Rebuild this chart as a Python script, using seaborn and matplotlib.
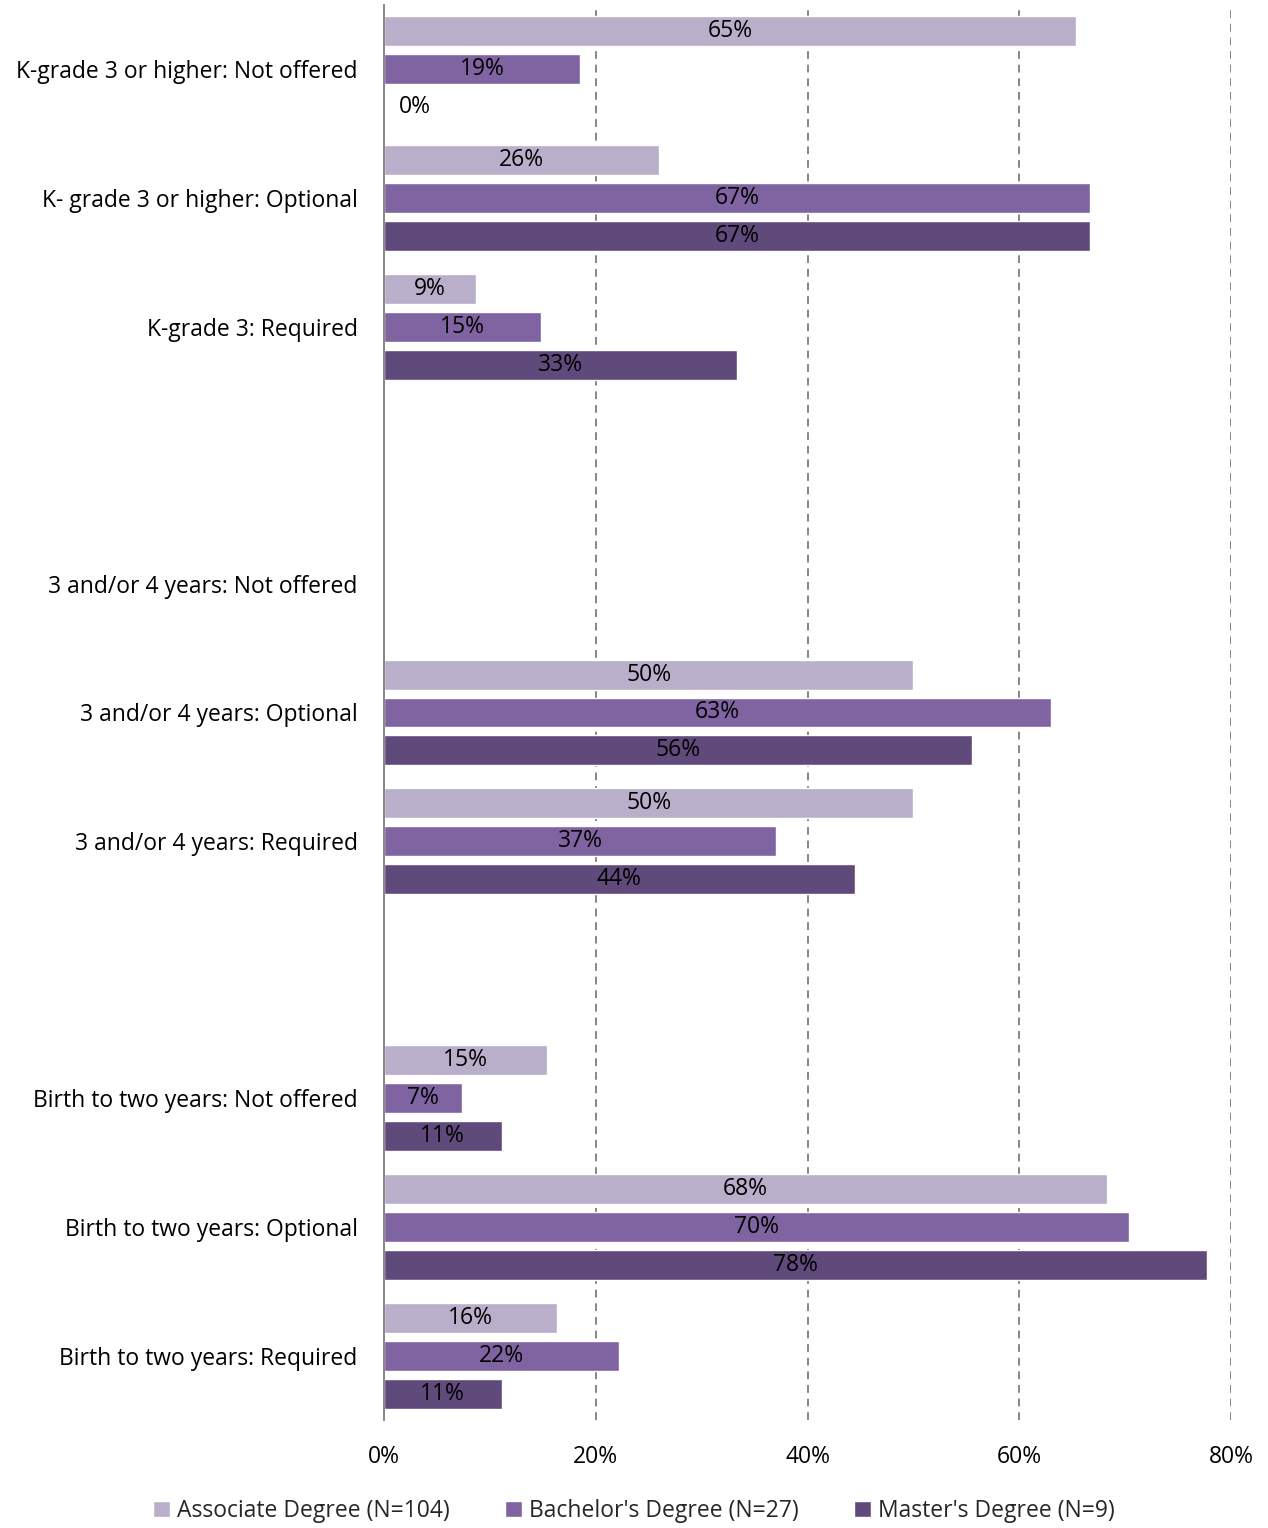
import matplotlib
matplotlib.use("Agg")
import matplotlib.pyplot as plt
import seaborn as sns
import pandas as pd

# Category slots, top to bottom (blank strings keep spacing between age bands)
categories = [
    "K-grade 3 or higher: Not offered",
    "K- grade 3 or higher: Optional",
    "K-grade 3: Required",
    "",
    "3 and/or 4 years: Not offered",
    "3 and/or 4 years: Optional",
    "3 and/or 4 years: Required",
    " ",
    "Birth to two years: Not offered",
    "Birth to two years: Optional",
    "Birth to two years: Required",
]

series_names = [
    "Associate Degree (N=104)",
    "Bachelor's Degree (N=27)",
    "Master's Degree (N=9)",
]

# Percent of programs; None = no bar for that slot
associate = [65.38, 25.96, 8.65, None, None, 50.0, 50.0, None, 15.38, 68.27, 16.35]
bachelor = [18.52, 66.67, 14.81, None, None, 62.96, 37.04, None, 7.41, 70.37, 22.22]
master = [0.0, 66.67, 33.33, None, None, 55.56, 44.44, None, 11.11, 77.78, 11.11]

x_ticks = [0, 20, 40, 60, 80]
colors = ["#B9AFCB", "#8064A2", "#604A7B"]

rows = []
for name, values in zip(series_names, [associate, bachelor, master]):
    for cat, v in zip(categories, values):
        if v is not None:
            rows.append({"category": cat, "degree": name, "pct": v})
df = pd.DataFrame(rows)

sns.set_theme(style="white")
plt.rcParams["font.family"] = ["Open Sans", "DejaVu Sans"]
FS = 16.5

fig = plt.figure(figsize=(12.68, 15.28), dpi=100)
ax = fig.add_axes([384 / 1268, 1 - 1420 / 1528, (1231 - 384) / 1268, (1420 - 5) / 1528])

sns.barplot(
    data=df, y="category", x="pct", hue="degree",
    order=categories, hue_order=series_names, palette=colors,
    orient="h", width=0.885, gap=0.21, errorbar=None, saturation=1,
    ax=ax,
)

ax.set_xlim(0, 80)
ax.set_ylim(10.5, -0.5)
ax.set_xticks(x_ticks)
ax.set_xticklabels([f"{t}%" for t in x_ticks], fontsize=FS, color="black")
ax.set_yticks(range(len(categories)))
ax.set_yticklabels(categories, fontsize=FS, color="black")
ax.tick_params(axis="x", length=0, pad=18)
ax.tick_params(axis="y", length=0, pad=19)
ax.set_xlabel("")
ax.set_ylabel("")

for gx in x_ticks[1:]:
    ax.axvline(gx, color="#868686", linestyle=(0, (4, 3)), linewidth=1.4, zorder=0)

for side in ["top", "right", "bottom"]:
    ax.spines[side].set_visible(False)
ax.spines["left"].set_color("#868686")
ax.spines["left"].set_linewidth(1.4)
ax.spines["left"].set_zorder(3)

# Value labels centred in each bar; zero-width bars get a label just right of the axis
for cont in ax.containers:
    vals = cont.datavalues
    labels = [f"{v:.0f}%" if v > 0 else "" for v in vals]
    ax.bar_label(cont, labels=labels, label_type="center", fontsize=FS, color="black")
    for patch, v in zip(cont.patches, vals):
        if v == 0:
            ax.annotate(f"{v:.0f}%", xy=(0, patch.get_y() + patch.get_height() / 2),
                        xytext=(11, 0), textcoords="offset points",
                        ha="left", va="center", fontsize=FS, color="black")

sns.move_legend(
    ax, "center", bbox_to_anchor=(0.5, 1 - 1511 / 1528), bbox_transform=fig.transFigure,
    ncol=3, frameon=False, title=None, fontsize=FS,
    handlelength=0.75, handleheight=0.75, handletextpad=0.3, columnspacing=2.4,
)

fig.savefig("out.png", dpi=100)
